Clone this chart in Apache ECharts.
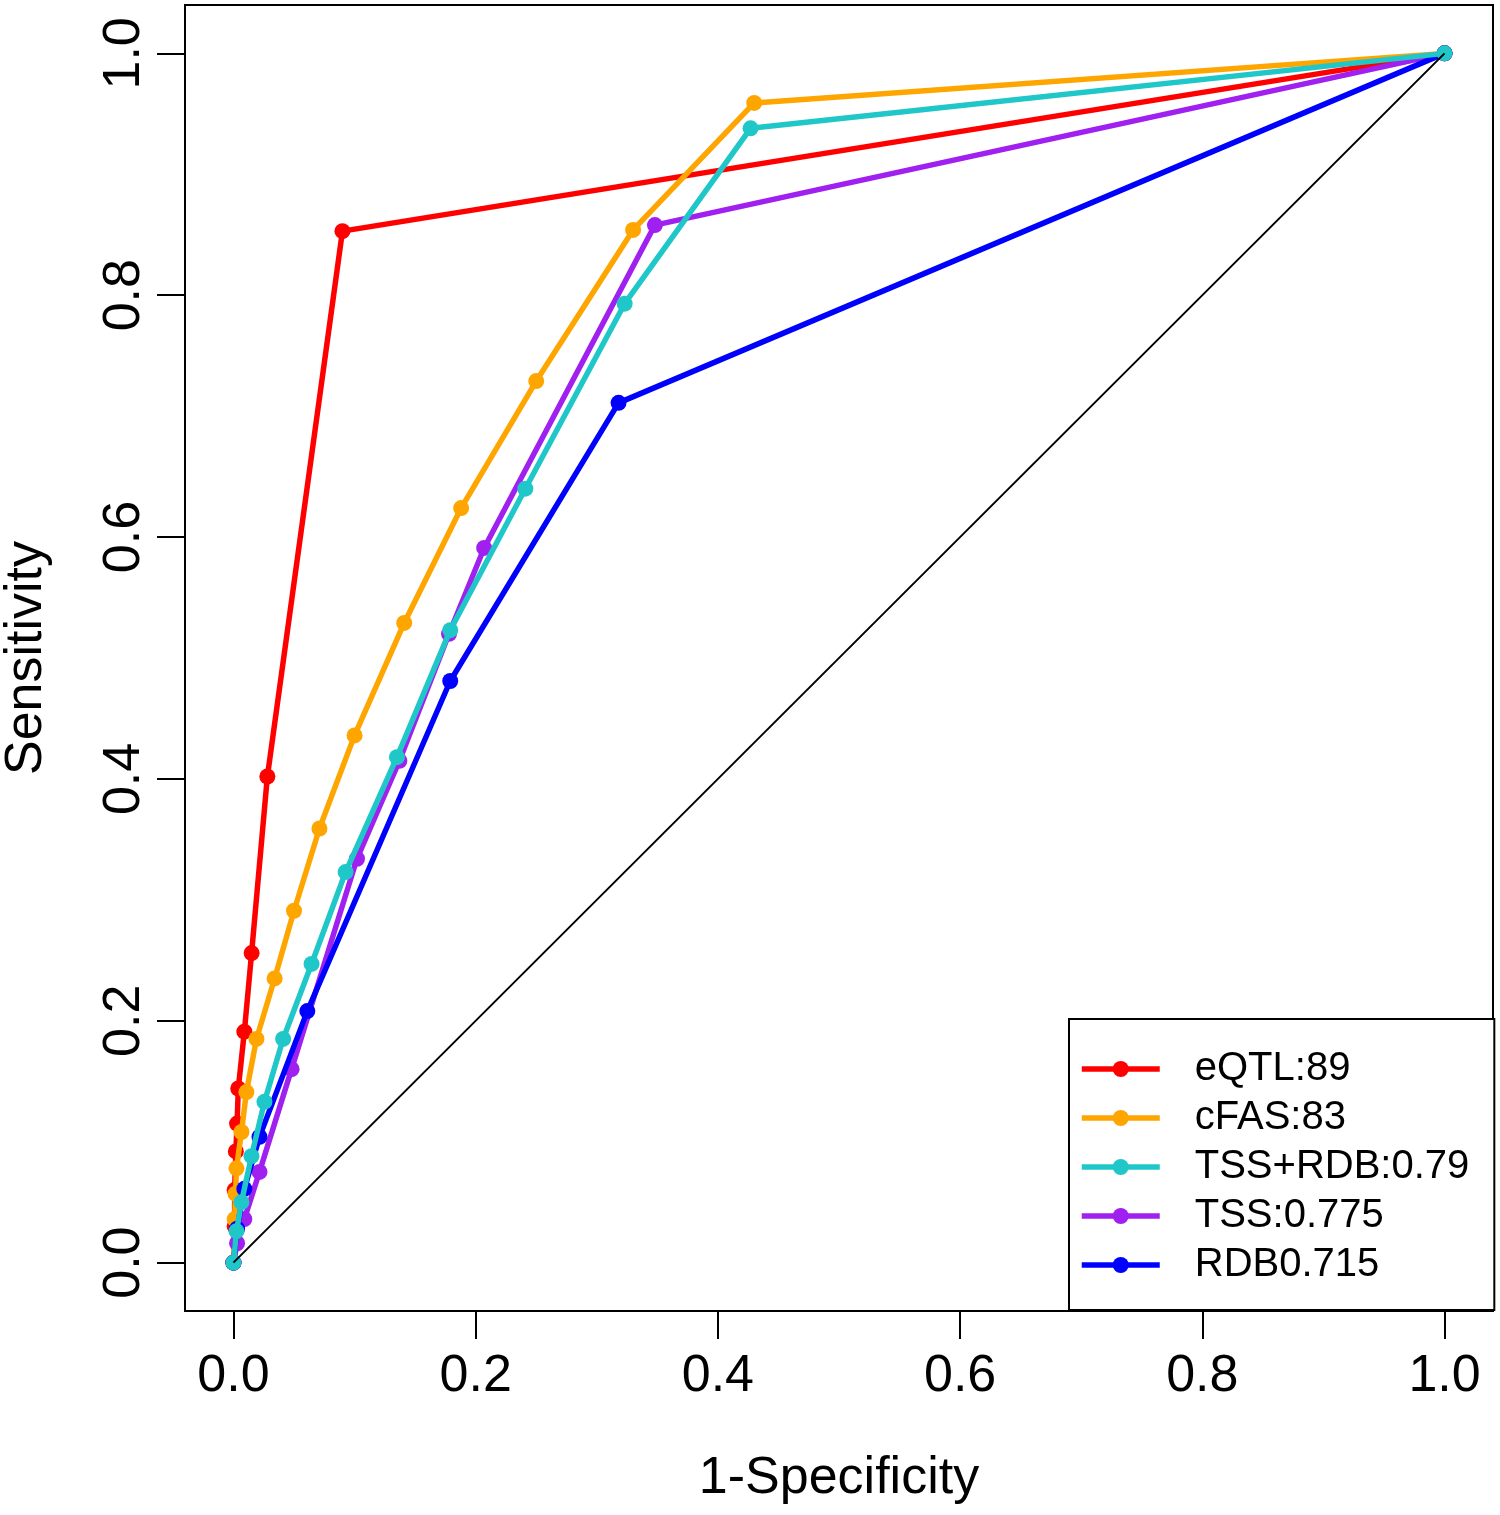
<!DOCTYPE html>
<html>
<head>
<meta charset="utf-8">
<script src="https://cdn.jsdelivr.net/npm/echarts@6/dist/echarts.min.js"></script>
<style>html,body{margin:0;padding:0;background:#fff}#c{width:1500px;height:1515px}</style>
</head>
<body>
<div id="c"></div>
<script>
// ---- data ----
const seriesNames = ['eQTL:89', 'cFAS:83', 'TSS+RDB:0.79', 'TSS:0.775', 'RDB0.715'];
const tickValues = [0, 0.2, 0.4, 0.6, 0.8, 1.0];

const eqtlFpr = [0, 0.001, 0.001, 0.002, 0.003, 0.004, 0.009, 0.015, 0.028, 0.090, 1];
const eqtlTpr = [0, 0.030, 0.060, 0.092, 0.115, 0.144, 0.191, 0.256, 0.402, 0.853, 1];

const cfasFpr = [0, 0.001, 0.0017, 0.0025, 0.0066, 0.0107, 0.019, 0.034, 0.050, 0.071, 0.100, 0.141, 0.188, 0.250, 0.330, 0.430, 1];
const cfasTpr = [0, 0.036, 0.057, 0.078, 0.108, 0.141, 0.185, 0.235, 0.291, 0.359, 0.436, 0.529, 0.624, 0.729, 0.854, 0.959, 1];

const tssRdbFpr = [0, 0.0025, 0.0066, 0.0149, 0.0256, 0.041, 0.0645, 0.0926, 0.135, 0.179, 0.241, 0.323, 0.427, 1];
const tssRdbTpr = [0, 0.026, 0.050, 0.088, 0.133, 0.185, 0.247, 0.323, 0.418, 0.523, 0.640, 0.793, 0.938, 1];

const tssFpr = [0, 0.003, 0.009, 0.0215, 0.048, 0.102, 0.137, 0.178, 0.207, 0.348, 1];
const tssTpr = [0, 0.016, 0.036, 0.075, 0.160, 0.334, 0.415, 0.520, 0.591, 0.858, 1];

const rdbFpr = [0, 0.003, 0.009, 0.0215, 0.061, 0.179, 0.318, 1];
const rdbTpr = [0, 0.028, 0.061, 0.104, 0.208, 0.481, 0.711, 1];

const diagX = [0, 1];
const diagY = [0, 1];

// ---- build ----
const zip = (a, b) => a.map((v, i) => [v, b[i]]);
const FONT = 'Liberation Sans, Arial, sans-serif';
const colors = ['#FF0000', '#FFA500', '#20C7C9', '#A020F0', '#0000FF'];
const zOrder = [1, 2, 5, 3, 4];
const sets = [[eqtlFpr, eqtlTpr], [cfasFpr, cfasTpr], [tssRdbFpr, tssRdbTpr], [tssFpr, tssTpr], [rdbFpr, rdbTpr]];

const series = sets.map((s, i) => ({
  name: seriesNames[i],
  type: 'line',
  data: zip(s[0], s[1]),
  symbol: 'circle',
  symbolSize: 16,
  showSymbol: true,
  z: 2 + zOrder[i],
  lineStyle: {color: colors[i], width: 5.5},
  itemStyle: {color: colors[i]},
  emphasis: {disabled: true},
  silent: true
}));
series.push({
  name: 'diag',
  type: 'line',
  data: zip(diagX, diagY),
  symbol: 'none',
  z: 10,
  lineStyle: {color: '#000', width: 2},
  emphasis: {disabled: true},
  silent: true
});

const chart = echarts.init(document.getElementById('c'), null, {renderer: 'canvas'});
chart.setOption({
  animation: false,
  backgroundColor: '#fff',
  grid: {left: 185, right: 7, top: 5, bottom: 204, outerBoundsMode: 'none', containLabel: false,
    show: true, borderColor: '#000', borderWidth: 2, backgroundColor: 'transparent'},
  xAxis: {
    type: 'value', min: -0.04, max: 1.04,
    name: '1-Specificity', nameLocation: 'middle', nameGap: 142,
    nameTextStyle: {fontSize: 52, color: '#000', fontFamily: FONT},
    axisLine: {show: false, onZero: false},
    splitLine: {show: false},
    axisTick: {show: true, inside: false, length: 28, lineStyle: {color: '#000', width: 2}, customValues: tickValues},
    axisLabel: {show: true, margin: 40, fontSize: 52, color: '#000', fontFamily: FONT, customValues: tickValues,
      formatter: v => v.toFixed(1)}
  },
  yAxis: {
    type: 'value', min: -0.04, max: 1.04,
    name: 'Sensitivity', nameLocation: 'middle', nameGap: 132,
    nameTextStyle: {fontSize: 52, color: '#000', fontFamily: FONT},
    axisLine: {show: false, onZero: false},
    splitLine: {show: false},
    axisTick: {show: true, inside: false, length: 28, lineStyle: {color: '#000', width: 2}, customValues: tickValues},
    axisLabel: {show: true, margin: 34, rotate: 90, fontSize: 52, color: '#000', fontFamily: FONT, customValues: tickValues,
      formatter: v => v.toFixed(1)}
  },
  legend: {
    data: seriesNames,
    orient: 'vertical',
    left: 1069, top: 1019,
    padding: [29, 25, 24, 10],
    itemGap: 7,
    itemWidth: 78, itemHeight: 20,
    lineStyle: {width: 5.5},
    borderColor: '#000', borderWidth: 2, backgroundColor: '#fff',
    textStyle: {fontSize: 40, color: '#000', fontFamily: FONT, lineHeight: 42, padding: [0, 0, 0, 30]},
    selectedMode: false
  },
  series: series
});
</script>
</body>
</html>
